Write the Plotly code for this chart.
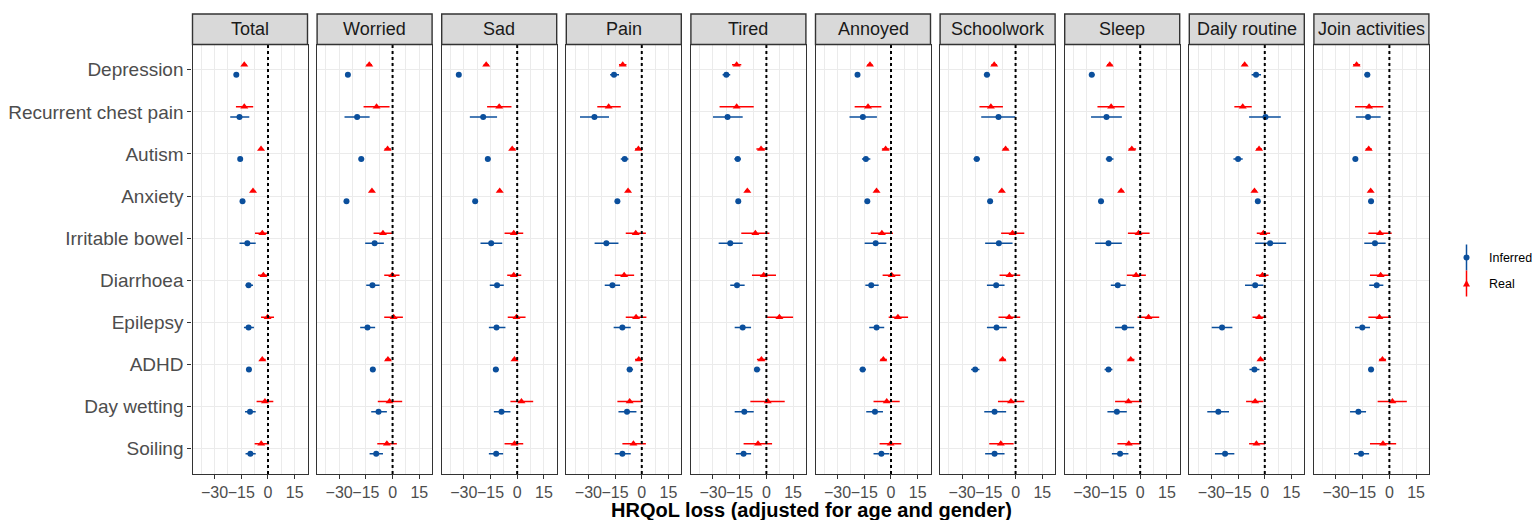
import plotly.graph_objects as go

conditions = ["Depression", "Recurrent chest pain", "Autism", "Anxiety", "Irritable bowel",
              "Diarrhoea", "Epilepsy", "ADHD", "Day wetting", "Soiling"]
panels = ["Total", "Worried", "Sad", "Pain", "Tired", "Annoyed", "Schoolwork", "Sleep",
          "Daily routine", "Join activities"]
x_ticks = [-30, -15, 0, 15]
x_tick_labels = ["\u221230", "\u221215", "0", "15"]

# (estimate, lower, upper) per condition, in the order of `conditions`
total_real = [(-13.3,-14.5,-12.1),(-13.3,-18,-8.3),(-3.9,-5,-2.8),(-8.4,-9.6,-7.2),(-3.2,-7.3,0.2),
              (-2.6,-5.6,0.6),(-0.2,-3.9,3.4),(-3.2,-4.5,-1.3),(-1.7,-6.4,3),(-3.8,-7.5,0.6)]
total_inferred = [(-17.8,-18.8,-16.8),(-16,-21.2,-10.5),(-15.6,-16.6,-14.6),(-14.3,-15.3,-13.3),(-11.6,-16,-6.9),
                  (-10.9,-12.6,-8.4),(-10.9,-13.5,-7.9),(-10.7,-12,-9.5),(-10.1,-12.9,-6.9),(-9.9,-12.6,-6.9)]
worried_real = [(-13.1,-14.6,-11.6),(-9,-16.3,-1.7),(-2.8,-4.5,-0.9),(-11.6,-12.8,-10.4),(-5.4,-10.7,0),
                (-0.2,-4.7,3.9),(0.6,-4.7,5.8),(-2.6,-4.1,-0.8),(-1.7,-8.3,5.4),(-3.2,-8.6,2.4)]
worried_inferred = [(-25.1,-26.3,-23.9),(-19.9,-27,-12.9),(-17.6,-19,-16),(-25.9,-27,-24.8),(-10.1,-15.4,-4.9),
                    (-11.3,-14.8,-7.3),(-14.1,-18.2,-9.8),(-11.1,-12.5,-9.7),(-7.9,-12,-3.2),(-9.2,-12.9,-5.4)]
sad_real = [(-17.4,-18.8,-16),(-10.1,-16.9,-3.2),(-2.8,-4.1,-0.9),(-9.8,-11,-8.6),(-1.9,-7.1,3.4),
            (-1.9,-5.6,2.3),(-0.4,-5.3,4.7),(-1.5,-2.8,0.4),(2.4,-3.8,9),(-1.5,-7.1,3.4)]
sad_inferred = [(-32.8,-34,-31.6),(-19.1,-26.6,-11.3),(-16.5,-18,-15),(-23.6,-24.6,-22.6),(-14.6,-20.6,-8.4),
                (-11.3,-15.4,-7.5),(-11.6,-15.9,-6.6),(-12,-13.5,-10.3),(-8.8,-13.1,-3.8),(-11.8,-15.9,-7.9)]
pain_real = [(-10.7,-12.8,-8.6),(-18.6,-25,-11.8),(-1.9,-3.8,0.4),(-7.7,-8.9,-6.5),(-3.4,-9,2.3),
             (-9.9,-15.2,-4.3),(-3.2,-9,2.6),(-1.7,-3.8,0.4),(-6.8,-13.7,0),(-4.7,-10.9,2.3)]
pain_inferred = [(-15.6,-17.8,-12.8),(-26.6,-34.7,-18.4),(-9.6,-11.8,-7.5),(-13.7,-14.8,-12.6),(-19.9,-26.5,-13.1),
                 (-16.5,-20.8,-12.2),(-10.9,-15.8,-6.2),(-6.8,-8.4,-4.9),(-8.3,-13.1,-3),(-10.9,-15.2,-6.2)]
tired_real = [(-16.7,-19.3,-14.1),(-16.7,-26.3,-7.1),(-3,-5.6,0.4),(-10.7,-12,-9.4),(-6.2,-14.1,1.7),
              (-1.5,-8.1,5.4),(7.3,0,15),(-2.8,-5.3,0.4),(0.8,-9,10.3),(-4.7,-12.8,3.2)]
tired_inferred = [(-22.5,-24.6,-20.3),(-21.8,-30,-13.3),(-16.1,-18,-14.3),(-15.8,-17,-14.6),(-20.3,-26.8,-13.3),
                  (-16.5,-20.3,-12.2),(-13.3,-17.8,-8.6),(-5.3,-6.8,-3.4),(-12.4,-17.8,-7.1),(-12.8,-17.1,-8.6)]
annoyed_real = [(-11.8,-13.2,-10.4),(-12.9,-20.4,-5.4),(-3,-5.1,-0.8),(-8.1,-9.3,-6.9),(-5.1,-11.3,1.1),
                (0.4,-4.7,5.3),(3.9,-1.3,9.6),(-4.3,-6,-2.3),(-2.4,-9.8,4.9),(-0.2,-6.4,5.8)]
annoyed_inferred = [(-18.8,-20,-17.4),(-15.8,-23.3,-7.9),(-14.1,-16.3,-11.6),(-13.3,-14.4,-12.2),(-8.6,-14.8,-2.6),
                    (-11.1,-14.4,-6.9),(-8.1,-12.2,-3.8),(-15.9,-17.6,-14.1),(-9,-13.9,-4.5),(-5.4,-9.8,-0.9)]
schoolwork_real = [(-12,-13.6,-10.4),(-13.9,-20.3,-7.1),(-5.6,-7.2,-4),(-7.7,-8.9,-6.5),(-1.7,-8.1,4.9),
                   (-3.4,-9,2.6),(-3.6,-9.6,2.6),(-7.3,-9,-5.4),(-2.6,-9.9,4.9),(-8.3,-14.8,-1.1)]
schoolwork_inferred = [(-16.1,-17.8,-14.3),(-9.6,-19.3,-0.2),(-21.8,-23.6,-20),(-14.3,-15.4,-13.2),(-9.4,-17.1,-1.7),
                       (-10.9,-16.1,-6.2),(-10.7,-16.1,-4.9),(-22.7,-25,-20.3),(-11.8,-17.6,-5.3),(-11.8,-17.1,-6.2)]
sleep_real = [(-17.1,-18.6,-15.6),(-16.3,-24,-8.8),(-4.7,-6.5,-2.3),(-10.7,-12,-9.4),(-0.9,-6.9,5.3),
              (-2.3,-7.5,3.2),(4.7,-1.5,10.7),(-5.3,-7.1,-3.2),(-6.6,-14.1,0.9),(-6.4,-12.8,0)]
sleep_inferred = [(-27.2,-28.8,-25.6),(-18.9,-27.6,-10.3),(-17.4,-19.3,-15),(-22,-23.1,-20.9),(-17.8,-25.3,-10.3),
                  (-12.6,-16.5,-8.1),(-8.8,-14.1,-3.4),(-17.8,-20,-15.6),(-13.1,-18.4,-7.5),(-11.3,-15.9,-6.6)]
daily_real = [(-11.3,-12.7,-9.9),(-12.4,-17.1,-7.3),(-3.2,-4.8,-1.6),(-5.8,-7,-4.6),(-0.8,-4.5,3),
              (-1.3,-4.9,2.1),(-3.2,-6.9,0.8),(-2.4,-3.9,-0.8),(-5.4,-10.5,-0.8),(-4.7,-8.8,0.2)]
daily_inferred = [(-4.9,-7.4,-2.1),(0.4,-8.8,9),(-15,-17.6,-12.4),(-3.9,-5,-2.8),(3,-5.4,12),
                  (-5.4,-11.1,-0.8),(-24,-29.8,-18.2),(-5.8,-8.6,-3),(-26.1,-32.3,-20.1),(-22.3,-28,-17.1)]
join_real = [(-18.4,-20.4,-16.4),(-11.4,-19.3,-3.4),(-11.6,-13.3,-9.9),(-10.5,-11.7,-9.3),(-5.3,-11.8,1.3),
             (-4.9,-10.9,0),(-5.6,-11.8,0.8),(-3.9,-5.8,-1.9),(1.7,-6.6,9.8),(-3.6,-10.9,3.8)]
join_inferred = [(-12.4,-14,-10.8),(-12,-18.8,-4.9),(-19.1,-20.6,-17.6),(-10.3,-11.4,-9.2),(-8.1,-14.1,-2.1),
                 (-7.1,-11.3,-3.4),(-15.2,-19.3,-10.9),(-10.3,-11.8,-8.6),(-17.4,-22.1,-13.1),(-15.9,-19.9,-11.4)]

real_series = [total_real, worried_real, sad_real, pain_real, tired_real, annoyed_real,
               schoolwork_real, sleep_real, daily_real, join_real]
inferred_series = [total_inferred, worried_inferred, sad_inferred, pain_inferred, tired_inferred,
                   annoyed_inferred, schoolwork_inferred, sleep_inferred, daily_inferred, join_inferred]

# ---- styling / layout ----
W, H = 1534, 520
RED = "#FF0000"
BLUE = "#0B4F9C"
GRID = "#EBEBEB"
FRAME = "#333333"
FONT = "Liberation Sans, Arial, sans-serif"
DODGE = 0.12

def px_x(p):
    return p / W

def px_y(p):
    return 1 - p / H

panel_left0 = 192.5
panel_pitch = 124.6
panel_w = 115.0
body_top, body_bot = 44.5, 474.0
strip_top = 14.0

fig = go.Figure()
layout_axes = {}
shapes = []
annotations = []

ypos = list(range(1, len(conditions) + 1))

for i, name in enumerate(panels):
    k = "" if i == 0 else str(i + 1)
    xa, ya = "x" + k, "y" + k
    left = panel_left0 + i * panel_pitch
    right = left + panel_w
    dom_x = [px_x(left), px_x(right)]
    dom_y = [px_y(body_bot), px_y(body_top)]

    for series, color, symbol, size, off, lname in (
        (inferred_series[i], BLUE, "circle", 6, DODGE, "Inferred"),
        (real_series[i], RED, "triangle-up", 7, -DODGE, "Real"),
    ):
        m = [s[0] for s in series]
        lo = [s[1] for s in series]
        hi = [s[2] for s in series]
        fig.add_trace(go.Scatter(
            x=m, y=[p + off for p in ypos], xaxis=xa, yaxis=ya, mode="markers",
            marker=dict(color=color, symbol=symbol, size=size, line=dict(width=0)),
            error_x=dict(type="data", symmetric=False,
                         array=[h - v for h, v in zip(hi, m)],
                         arrayminus=[v - l for v, l in zip(m, lo)],
                         color=color, thickness=1.5, width=0),
            name=lname, showlegend=False, hoverinfo="x+name"))

    layout_axes["xaxis" + k] = dict(
        domain=dom_x, anchor=ya, range=[-42.4, 22.2], tickvals=x_ticks, ticktext=x_tick_labels,
        tickangle=0,
        showgrid=True, gridcolor=GRID, gridwidth=1.1, zeroline=False,
        minor=dict(tickvals=[-37.5, -22.5, -7.5, 7.5], showgrid=True, gridcolor=GRID, gridwidth=0.8, ticks=""),
        ticks="outside", ticklen=4, tickcolor=FRAME, tickwidth=1.1,
        showline=True, mirror=True, linecolor=FRAME, linewidth=1.4,
        tickfont=dict(family=FONT, size=16, color="#4D4D4D"), fixedrange=True)
    layout_axes["yaxis" + k] = dict(
        domain=dom_y, anchor=xa, range=[10.6, 0.4], tickvals=ypos,
        ticktext=conditions if i == 0 else [""] * len(conditions),
        showticklabels=(i == 0), ticks="outside" if i == 0 else "", ticklen=4,
        tickcolor=FRAME, tickwidth=1.1,
        showgrid=True, gridcolor=GRID, gridwidth=1.1, zeroline=False,
        showline=True, mirror=True, linecolor=FRAME, linewidth=1.4,
        tickfont=dict(family=FONT, size=19, color="#4D4D4D"), fixedrange=True)

    # dotted reference line at zero
    shapes.append(dict(type="line", xref=xa, yref=ya + " domain", x0=0, x1=0, y0=0, y1=1,
                       line=dict(color="black", width=2, dash="dot"), layer="above"))
    # strip
    shapes.append(dict(type="rect", xref="paper", yref="paper",
                       x0=dom_x[0], x1=dom_x[1], y0=px_y(body_top), y1=px_y(strip_top),
                       fillcolor="#D9D9D9", line=dict(color=FRAME, width=1.4), layer="above"))
    annotations.append(dict(text=name, xref="paper", yref="paper",
                            x=(dom_x[0] + dom_x[1]) / 2, y=px_y((strip_top + body_top) / 2),
                            showarrow=False, xanchor="center", yanchor="middle",
                            font=dict(family=FONT, size=18, color="#1A1A1A")))

# x-axis title
annotations.append(dict(text="<b>HRQoL loss (adjusted for age and gender)</b>", xref="paper", yref="paper",
                        x=px_x(811), y=px_y(509.5), showarrow=False, xanchor="center", yanchor="middle",
                        font=dict(family=FONT, size=20, color="black")))

# legend (pointrange keys)
leg_x = 1466.5
for label, color, sym, yc in (("Inferred", BLUE, "circle", 257.5), ("Real", RED, "triangle", 283.5)):
    shapes.append(dict(type="line", xref="paper", yref="paper", x0=px_x(leg_x), x1=px_x(leg_x),
                       y0=px_y(yc - 13), y1=px_y(yc + 13), line=dict(color=color, width=1.5)))
    if sym == "circle":
        shapes.append(dict(type="circle", xref="paper", yref="paper",
                           x0=px_x(leg_x - 3), x1=px_x(leg_x + 3), y0=px_y(yc + 3), y1=px_y(yc - 3),
                           fillcolor=color, line=dict(width=0)))
    else:
        path = "M {:.5f} {:.5f} L {:.5f} {:.5f} L {:.5f} {:.5f} Z".format(
            px_x(leg_x - 3.5), px_y(yc + 3), px_x(leg_x + 3.5), px_y(yc + 3), px_x(leg_x), px_y(yc - 3.5))
        shapes.append(dict(type="path", xref="paper", yref="paper", path=path,
                           fillcolor=color, line=dict(width=0)))
    annotations.append(dict(text=label, xref="paper", yref="paper", x=px_x(1487), y=px_y(yc),
                            showarrow=False, xanchor="left", yanchor="middle",
                            font=dict(family=FONT, size=12.5, color="black")))

fig.update_layout(
    width=W, height=H, margin=dict(l=0, r=0, t=0, b=0),
    paper_bgcolor="white", plot_bgcolor="white", showlegend=False,
    shapes=shapes, annotations=annotations, font=dict(family=FONT),
    **layout_axes)

fig.write_html("out.html")
